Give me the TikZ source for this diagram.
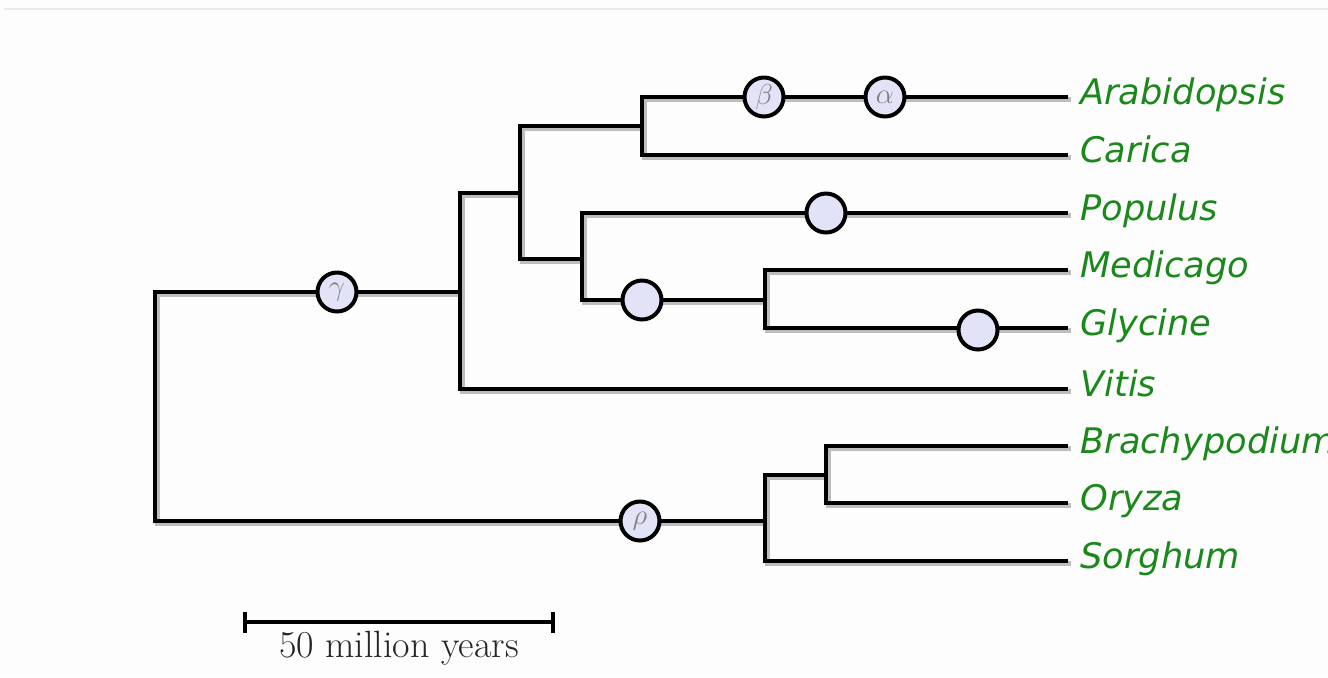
\documentclass[tikz,border=0pt]{standalone}
\usepackage{fontspec}
\newfontfamily\taxfont{DejaVu Sans}
\usetikzlibrary{positioning}
\definecolor{taxgreen}{HTML}{1A881A}
\definecolor{wgdfill}{HTML}{E3E3F7}
\definecolor{paper}{HTML}{FDFDFD}
\definecolor{rule}{HTML}{EAEAEA}
\definecolor{shade}{HTML}{BDBDBD}
\tikzset{
  br/.style={line width=2.4pt, line join=miter,
    preaction={draw=shade, line width=2.4pt, transform canvas={shift={(1.3pt,-1.3pt)}}}},
  wgd/.style={circle, draw=black, fill=wgdfill, line width=2pt, minimum size=19.5pt,
    inner sep=0pt, font=\fontsize{14}{14}\selectfont, text=black!50},
  taxon/.style={font=\taxfont\itshape\fontsize{17.6}{17.6}\selectfont, text=taxgreen,
    inner sep=0pt, text height=0.73em, text depth=0pt},
  sbar/.style={line width=2.2pt},
}

\begin{document}
\begin{tikzpicture}[x=0.5pt,y=-0.5pt]
  \useasboundingbox (0,0) rectangle (1328,677);
  \fill[paper] (0,0) rectangle (1328,677);
  \draw[rule, line width=1.4pt] (4,9) -- (1328,9);

  % internal nodes
  \coordinate (nRoot)  at (155,406);
  \coordinate (nEud)   at (460,292);
  \coordinate (nMono)  at (765,521);
  \coordinate (nRosid) at (520,193);
  \coordinate (nBrass) at (642,126);
  \coordinate (nFab)   at (582,259);
  \coordinate (nLeg)   at (765,300);
  \coordinate (nGrass) at (826,475);

  % tips
  \foreach \t/\y/\name in {Arab/97/Arabidopsis, Cari/155/Carica, Popu/213/Populus,
      Medi/270/Medicago, Glyc/328/Glycine, Viti/389/Vitis,
      Brac/446/Brachypodium, Oryz/503/Oryza, Sorg/561/Sorghum} {
    \coordinate (t\t) at (1068,\y);
    \node[taxon, right=6pt of t\t] (l\t) {\name};
  }

  \draw[br] (nEud) -| (nRoot) |- (nMono);
  \draw[br] (nRosid) -| (nEud) |- (tViti);
  \draw[br] (nBrass) -| (nRosid) |- (nFab);
  \draw[br] (tArab) -| (nBrass) |- (tCari);
  \draw[br] (tPopu) -| (nFab) |- (nLeg);
  \draw[br] (tMedi) -| (nLeg) |- (tGlyc);
  \draw[br] (nGrass) -| (nMono) |- (tSorg);
  \draw[br] (tBrac) -| (nGrass) |- (tOryz);

  % duplication events
  \node[wgd] (wGamma) at (337,292) {$\gamma$};
  \node[wgd] (wRho)   at (640,521) {$\rho$};
  \node[wgd] (wBeta)  at (764,97)  {$\beta$};
  \node[wgd] (wAlpha) at (885,97)  {$\alpha$};
  \node[wgd] (wPopu)  at (826,213) {};
  \node[wgd] (wLeg)   at (642,300) {};
  \node[wgd] (wGlyc)  at (978,330) {};

  % scale bar
  \coordinate (sbL) at (245,622);
  \coordinate (sbR) at (553,622);
  \draw[sbar] (sbL) -- (sbR)
    node[midway, below=3.5pt, inner sep=0pt, text=black!85,
      font=\fontsize{19}{20}\selectfont] (sbLab) {50 million years};
  \draw[sbar] ([yshift=5pt]sbL) -- ([yshift=-5.5pt]sbL);
  \draw[sbar] ([yshift=5pt]sbR) -- ([yshift=-5.5pt]sbR);
\end{tikzpicture}
\end{document}
